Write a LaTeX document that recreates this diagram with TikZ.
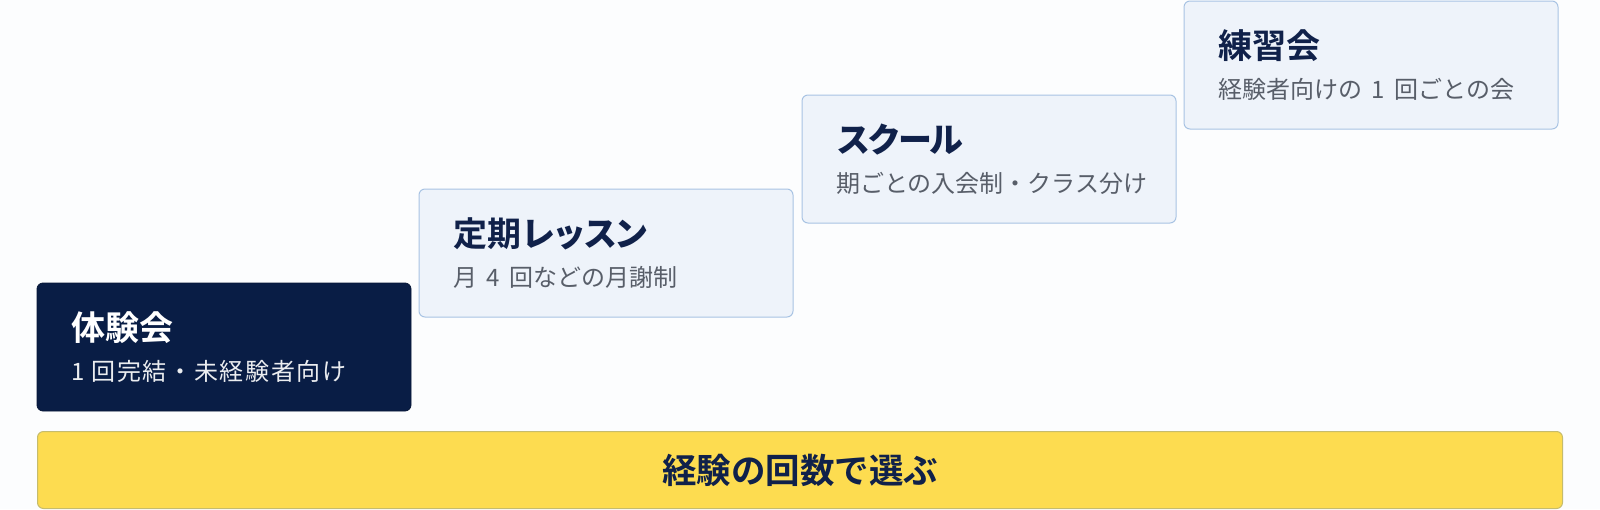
\documentclass[tikz,border=0pt]{standalone}
\usepackage{fontspec}
\newfontfamily\jp[BoldFont={Noto Sans CJK JP Bold}]{Noto Sans CJK JP}
\newfontfamily\jpkana[LetterSpace=-9]{Noto Sans CJK JP Bold}
\newfontfamily\jpwide[LetterSpace=7]{Noto Sans CJK JP}
\newcommand\jsp{\hspace{9.5pt}}
\newcommand\kn[1]{{\jpkana #1}}
\definecolor{navy}{HTML}{091D45}
\definecolor{titlec}{HTML}{10214A}
\definecolor{subc}{HTML}{585E69}
\definecolor{lightfill}{HTML}{EEF3FA}
\definecolor{lightline}{HTML}{A8C3E3}
\definecolor{yel}{HTML}{FDDC50}
\definecolor{yelline}{HTML}{C6BC6C}
\definecolor{bg}{HTML}{FCFDFE}
\tikzset{
  stage/.style={rectangle, rounded corners=6pt, minimum width=374pt, minimum height=128pt, anchor=north west, inner sep=0pt, outer sep=0pt},
  darkstage/.style={stage, fill=navy, draw=navy!80!black, line width=0.8pt},
  lightstage/.style={stage, fill=lightfill, draw=lightline, line width=1pt},
  ttl/.style={anchor=base west, inner sep=0pt, font=\jp\bfseries\fontsize{34pt}{36pt}\selectfont, text=titlec},
  sub/.style={anchor=base west, inner sep=0pt, font=\jp\fontsize{24pt}{28pt}\selectfont, text=subc},
  bar/.style={rectangle, rounded corners=6pt, minimum width=1525pt, minimum height=77pt, anchor=north west, fill=yel, draw=yelline, line width=1pt, inner sep=0pt},
  bartext/.style={anchor=base, inner sep=0pt, font=\jp\bfseries\fontsize{34.5pt}{36pt}\selectfont, text=titlec}
}
\begin{document}
\begin{tikzpicture}[x=1pt,y=-1pt]
\fill[bg] (0,0) rectangle (1600,509);
\useasboundingbox (0,0) rectangle (1600,509);
\node[darkstage] (b1) at (37,283) {};
\node[lightstage] (b2) at (419,189) {};
\node[lightstage] (b3) at (802,95) {};
\node[lightstage] (b4) at (1184,1) {};
\node[ttl, text=white] (t1) at ([xshift=34pt,yshift=-57pt]b1.north west) {体験会};
\node[sub, font=\jpwide\fontsize{24pt}{28pt}\selectfont, text=white!92!navy] (s1) at ([xshift=34pt,yshift=-97pt]b1.north west) {1\hspace{7pt}回完結・未経験者向け};
\node[ttl] (t2) at ([xshift=34pt,yshift=-57pt]b2.north west) {定期\kn{レッスン}};
\node[sub] (s2) at ([xshift=34pt,yshift=-97pt]b2.north west) {月\jsp 4\jsp 回などの月謝制};
\node[ttl] (t3) at ([xshift=34pt,yshift=-57pt]b3.north west) {\kn{スクール}};
\node[sub] (s3) at ([xshift=34pt,yshift=-97pt]b3.north west) {期ごとの入会制・クラス分け};
\node[ttl] (t4) at ([xshift=34pt,yshift=-57pt]b4.north west) {練習会};
\node[sub] (s4) at ([xshift=34pt,yshift=-97pt]b4.north west) {経験者向けの\jsp 1\jsp 回ごとの会};
\node[bar] (yb) at (37,431) {};
\node[bartext] (yt) at ([yshift=-13pt]yb.center) {経験の回数で選ぶ};
\end{tikzpicture}
\end{document}
